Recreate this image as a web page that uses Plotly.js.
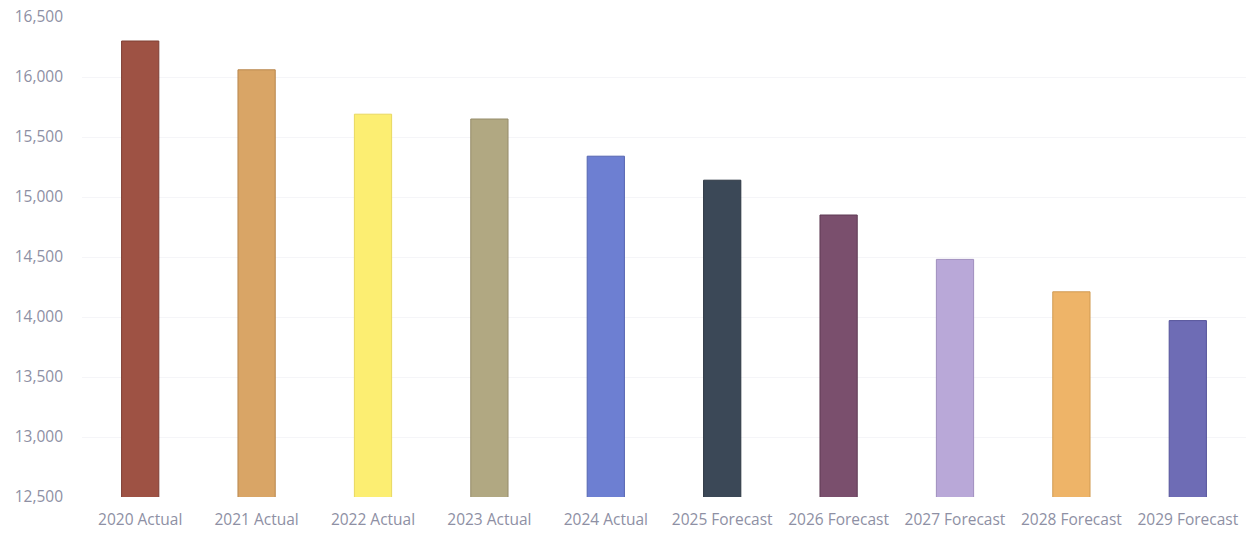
<!DOCTYPE html>
<html>
<head>
<meta charset="utf-8">
<script src="https://cdn.plot.ly/plotly-3.0.1.min.js"></script>
<style>html,body{margin:0;padding:0;background:#fff;}#chart{width:1254px;height:535px;}</style>
</head>
<body>
<div id="chart"></div>
<script>
const categories = ["2020 Actual","2021 Actual","2022 Actual","2023 Actual","2024 Actual","2025 Forecast","2026 Forecast","2027 Forecast","2028 Forecast","2029 Forecast"];
const values = [16300, 16060, 15690, 15650, 15340, 15140, 14850, 14480, 14210, 13970];
const barColors = ["#9e5244","#d9a566","#fcee72","#b1a882","#6d7fd2","#3b4857","#7a4f6d","#b9a8d8","#eeb468","#6e6cb5"];
const lineColors = ["#7e3e33","#b8864d","#e8d860","#958c6a","#5565b0","#2c3642","#5e3b54","#9f8ebe","#d09a52","#55539a"];
const tickVals = [12500,13000,13500,14000,14500,15000,15500,16000,16500];
const tickText = ["12,500","13,000","13,500","14,000","14,500","15,000","15,500","16,000","16,500"];

const trace = {
  type: "bar",
  x: categories,
  y: values,
  marker: {color: barColors, line: {color: lineColors, width: 1}},
  width: 0.32,
  hoverinfo: "x+y"
};

const layout = {
  width: 1254, height: 535,
  margin: {l: 82, r: 8, t: 17, b: 38},
  paper_bgcolor: "#ffffff",
  plot_bgcolor: "#ffffff",
  showlegend: false,
  font: {family: "Open Sans, Liberation Sans, sans-serif", size: 15, color: "#8e90a4"},
  xaxis: {
    type: "category",
    showgrid: false, showline: false, zeroline: false,
    ticks: "", tickfont: {size: 15.5, color: "#8e90a4"},
    ticklabelstandoff: 11
  },
  yaxis: {
    range: [12500, 16500],
    tickvals: tickVals, ticktext: tickText,
    showgrid: true, gridcolor: "#f5f5f8", gridwidth: 1,
    zeroline: false, showline: false, ticks: "",
    tickfont: {size: 15.5, color: "#8e90a4"},
    ticklabelstandoff: 18
  }
};
Plotly.newPlot("chart", [trace], layout, {staticPlot: true, displayModeBar: false});
</script>
</body>
</html>
